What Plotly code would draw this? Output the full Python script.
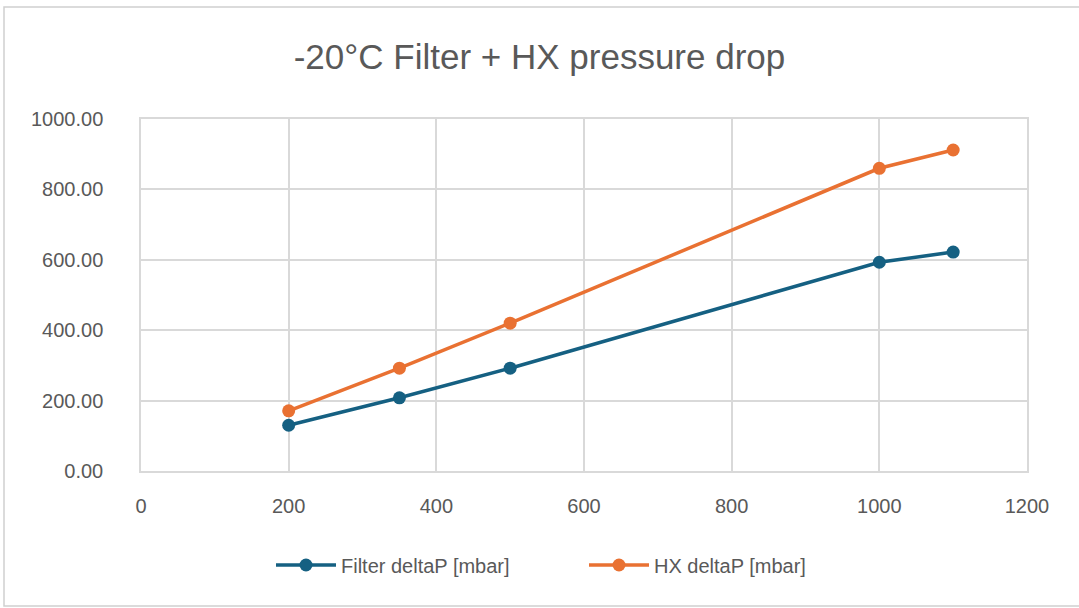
import plotly.graph_objects as go

# Flow points and measured pressure drops
flow = [200, 350, 500, 1000, 1100]
filter_dp = [130, 208, 292, 593, 622]
hx_dp = [171, 292, 420, 860, 912]

series_names = ["Filter deltaP [mbar]", "HX deltaP [mbar]"]
series_colors = ["#156082", "#E97132"]

x_ticks = [0, 200, 400, 600, 800, 1000, 1200]
y_ticks = [0, 200, 400, 600, 800, 1000]

FONT = "Liberation Sans, Arial, sans-serif"
TEXT = "#595959"
GRID = "#D9D9D9"

fig = go.Figure()
for name, ys, col in zip(series_names, [filter_dp, hx_dp], series_colors):
    fig.add_trace(go.Scatter(
        x=flow, y=ys, name=name, mode="lines+markers",
        line=dict(color=col, width=3.5),
        marker=dict(color=col, size=13),
    ))

W, H = 1079, 608
ml, mr, mt, mb = 141, 52, 119, 137
pw, ph = W - ml - mr, H - mt - mb

fig.update_layout(
    width=W, height=H,
    margin=dict(l=ml, r=mr, t=mt, b=mb),
    paper_bgcolor="white", plot_bgcolor="white",
    font=dict(family=FONT, color=TEXT, size=20),
    title=dict(text="-20°C Filter + HX pressure drop", x=0.5, xanchor="center",
               y=1 - 57 / H, yanchor="middle",
               font=dict(family=FONT, size=35, color=TEXT)),
    legend=dict(orientation="h", x=0.5, xanchor="center",
                y=-(565 - 471) / ph, yanchor="middle",
                font=dict(family=FONT, size=20, color=TEXT),
                itemwidth=60, entrywidth=238),
    showlegend=True,
)
fig.update_xaxes(range=[0, 1200], tickvals=x_ticks, showgrid=True, gridcolor=GRID,
                 gridwidth=1.5, showline=True, linecolor=GRID, linewidth=1.5, mirror=True,
                 zeroline=False, ticks="", ticklabelstandoff=16,
                 tickfont=dict(family=FONT, size=20, color=TEXT))
fig.update_yaxes(range=[0, 1000], tickvals=y_ticks, tickformat=".2f", showgrid=True,
                 gridcolor=GRID, gridwidth=1.5, showline=True, linecolor=GRID, linewidth=1.5,
                 mirror=True, zeroline=False, ticks="", ticklabelstandoff=32,
                 tickfont=dict(family=FONT, size=20, color=TEXT))

# Outer chart frame
fig.add_shape(type="rect", xref="paper", yref="paper",
              x0=(4 - ml) / pw, x1=(W + 5 - ml) / pw,
              y0=-(H - 2 - mt - ph) / ph, y1=1 + (mt - 7) / ph,
              line=dict(color="#D0D0D0", width=1.5), layer="below")

fig.write_html("out.html")
